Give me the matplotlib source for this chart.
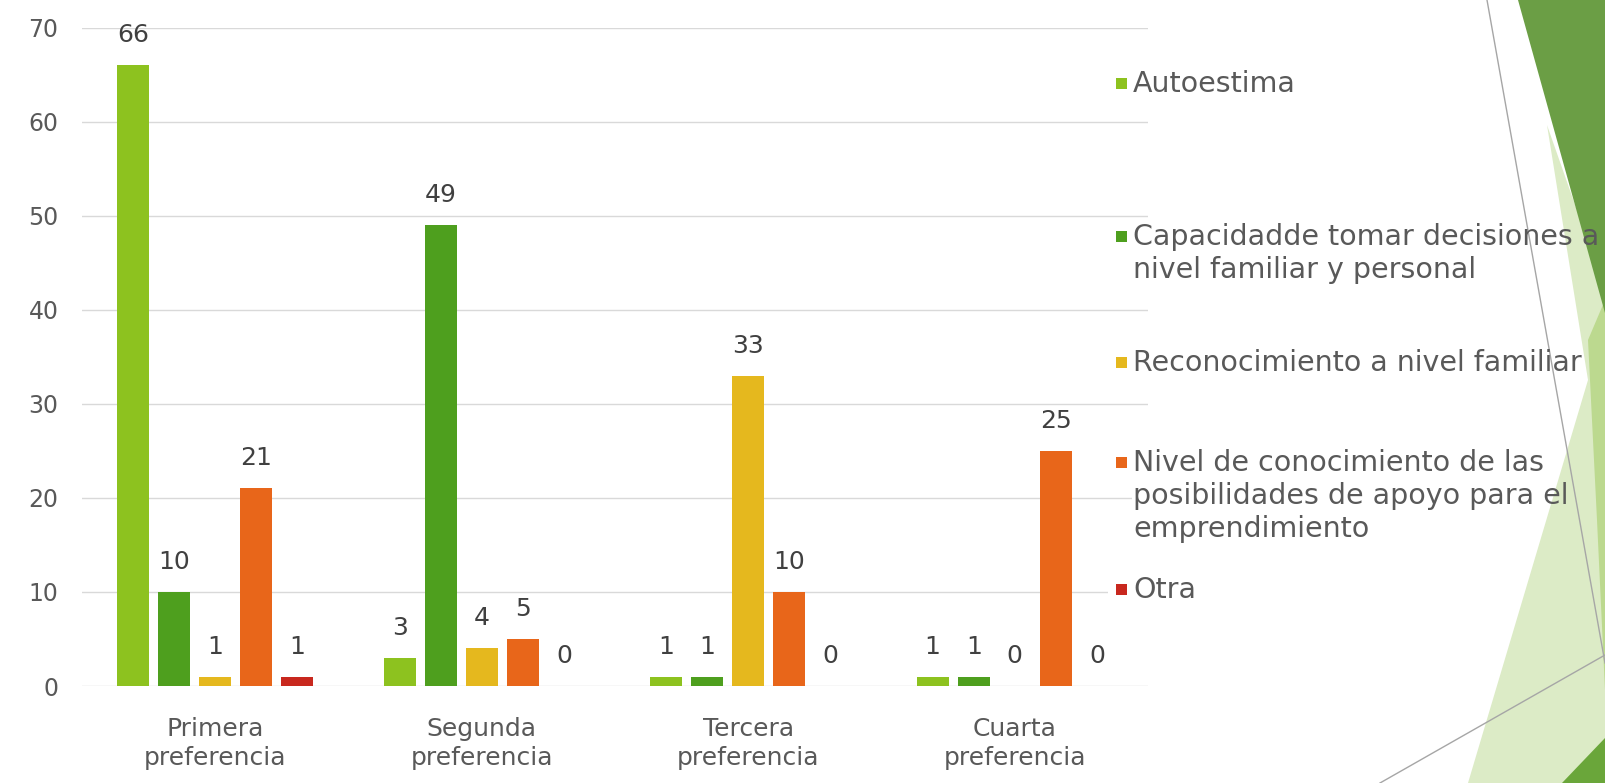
import matplotlib.pyplot as plt
from matplotlib.patches import Polygon, Rectangle
import numpy as np

# ─── data ───────────────────────────────────────────
categories = ["Primera\npreferencia", "Segunda\npreferencia",
              "Tercera\npreferencia", "Cuarta\npreferencia"]
autoestima     = [66, 3, 1, 1]
capacidad      = [10, 49, 1, 1]
reconocimiento = [1, 4, 33, 0]
nivel          = [21, 5, 10, 25]
otra           = [1, 0, 0, 0]

series_names = ["Autoestima",
                "Capacidadde tomar decisiones a\nnivel familiar y personal",
                "Reconocimiento a nivel familiar",
                "Nivel de conocimiento de las\nposibilidades de apoyo para el\nemprendimiento",
                "Otra"]
series_vals = [autoestima, capacidad, reconocimiento, nivel, otra]
colors = ["#8DC21F", "#4E9F1E", "#E5B81E", "#E8661A", "#C8281E"]

W, H = 1605, 783
fig = plt.figure(figsize=(W / 100, H / 100), dpi=100)

# ─── fondo decorativo (triángulos a la derecha) ─────
bg = fig.add_axes([0, 0, 1, 1])
bg.set_xlim(0, W); bg.set_ylim(H, 0); bg.axis("off")
bg.add_patch(Polygon([(1547, 125), (1605, 290), (1605, 783), (1468, 783), (1588, 380)],
                     closed=True, fc="#DCEBC6", ec="none"))
bg.add_patch(Polygon([(1588, 340), (1605, 300), (1605, 690), (1597, 520)],
                     closed=True, fc="#BCD98F", ec="none"))
bg.add_patch(Polygon([(1518, 0), (1605, 0), (1605, 313)],
                     closed=True, fc="#6B9E45", ec="none"))
bg.add_patch(Polygon([(1562, 783), (1605, 738), (1605, 783)],
                     closed=True, fc="#6AA63A", ec="none"))
bg.plot([1487, 1605], [0, 663], color="#A6A6A6", lw=1)
bg.plot([1380, 1605], [783, 655], color="#A6A6A6", lw=1)

# ─── gráfico ────────────────────────────────────────
x0, x1, ytop, ybot = 82, 1148, 27.6, 686
ax = fig.add_axes([x0 / W, 1 - ybot / H, (x1 - x0) / W, (ybot - ytop) / H])
ax.patch.set_alpha(0)

x = np.arange(len(categories))
bw, step = 0.12, 0.154
for i, (vals, c) in enumerate(zip(series_vals, colors)):
    pos = x + (i - 2) * step
    ax.bar(pos, vals, width=bw, color=c, zorder=3)
    for px, v in zip(pos, vals):
        ax.annotate(str(v), (px, v), xytext=(0, 13), textcoords="offset points",
                    ha="center", va="bottom", fontsize=18, color="#404040")

ax.set_xlim(-0.5, len(categories) - 0.5)
ax.set_ylim(0, 70)
ax.set_yticks(range(0, 71, 10))
ax.set_xticks(x)
ax.set_xticklabels(categories, fontsize=18, color="#595959", linespacing=1.3)
ax.tick_params(axis="y", length=0, pad=17, labelsize=17, labelcolor="#595959")
ax.tick_params(axis="x", length=0, pad=22)
ax.grid(axis="y", color="#D9D9D9", lw=1, zorder=0)
for s in ax.spines.values():
    s.set_visible(False)

# ─── leyenda manual ─────────────────────────────────
lg = fig.add_axes([0, 0, 1, 1])
lg.set_xlim(0, W); lg.set_ylim(H, 0); lg.axis("off")
leg_y = [84, 237, 363, 463, 590]
for name, c, yy in zip(series_names, colors, leg_y):
    lines = name.split("\n")
    for k, line in enumerate(lines):
        x_start = 1108 if k == 0 else 1132
        lg.add_patch(Rectangle((x_start, yy + k * 33 - 16), 1152 - x_start, 32,
                               fc="white", ec="none"))
        lg.text(1133, yy + k * 33, line, fontsize=20.5, color="#595959",
                va="center", ha="left")
    lg.add_patch(Rectangle((1116, yy - 6), 11, 11, fc=c, ec="none"))

fig.savefig("out.png", dpi=100)
